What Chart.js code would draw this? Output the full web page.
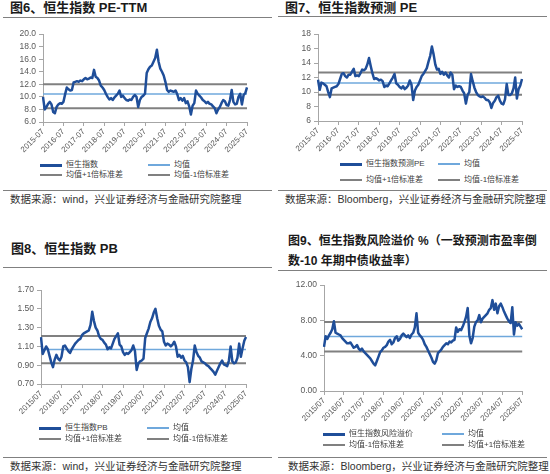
<!DOCTYPE html>
<html>
<head>
<meta charset="utf-8">
<script src="https://cdn.jsdelivr.net/npm/chart.js@4.4.1/dist/chart.umd.min.js"></script>
<style>
  body { margin: 0; width: 550px; height: 474px; background: #fff; position: relative; overflow: hidden;
         font-family: "Liberation Sans", "Noto Sans CJK SC", sans-serif; }
  .title { position: absolute; font-weight: bold; font-size: 13px; color: #1a1a1a; line-height: 18px; white-space: nowrap; }
  .rule { position: absolute; height: 1px; background: #808080; }
  .src { position: absolute; font-size: 10.5px; color: #333; line-height: 14px; white-space: nowrap; }
  .leg { position: absolute; font-size: 8px; color: #404040; line-height: 10px; white-space: nowrap; display: flex; align-items: center; }
  .leg i { display: inline-block; width: 22px; margin-right: 4px; }
  canvas { position: absolute; }
</style>
</head>
<body>

<div class="title" style="left:10px;top:-1px">图6、恒生指数 PE-TTM</div>
<div class="rule" style="left:3px;top:17px;width:269px"></div>
<canvas id="c6" width="255" height="130" style="left:0;top:26px"></canvas>
<div class="rule" style="left:3px;top:190px;width:269px"></div>
<div class="src" style="left:10px;top:192px">数据来源：wind，兴业证券经济与金融研究院整理</div>

<div class="title" style="left:285px;top:-1px">图7、恒生指数预测 PE</div>
<div class="rule" style="left:278px;top:16px;width:269px"></div>
<canvas id="c7" width="255" height="129" style="left:275px;top:26px"></canvas>
<div class="rule" style="left:278px;top:190px;width:269px"></div>
<div class="src" style="left:285px;top:192px">数据来源：Bloomberg，兴业证券经济与金融研究院整理</div>

<div class="title" style="left:11px;top:240px">图8、恒生指数 PB</div>
<div class="rule" style="left:3px;top:267px;width:269px"></div>
<canvas id="c8" width="255" height="136" style="left:0;top:282px"></canvas>
<div class="rule" style="left:3px;top:457px;width:269px"></div>
<div class="src" style="left:10px;top:459px">数据来源：wind，兴业证券经济与金融研究院整理</div>

<div class="title" style="left:288px;top:232px;font-size:12px">图9、恒生指数风险溢价 %（一致预测市盈率倒</div>
<div class="title" style="left:288px;top:252px;font-size:12px">数-10 年期中债收益率）</div>
<div class="rule" style="left:278px;top:270px;width:269px"></div>
<canvas id="c9" width="255" height="148" style="left:275px;top:277px"></canvas>
<div class="rule" style="left:278px;top:457px;width:269px"></div>
<div class="src" style="left:288px;top:459px">数据来源：Bloomberg，兴业证券经济与金融研究院整理</div>

<script>
// months 2015-07 .. 2025-07
const months = [];
for (let y = 2015, m = 7; y < 2025 || (y === 2025 && m <= 7);) {
    months.push(`${y}-${String(m).padStart(2, '0')}`);
    m++;
    if (m > 12) { m = 1; y++; }
}

// 图6 恒生指数 PE-TTM
const hsiPeTtm = [
    10.0, 8.0, 8.4, 8.9, 9.2, 8.8, 7.6, 7.4, 8.4, 8.8, 9.0, 8.9,
    9.2, 10.4, 11.5, 11.2, 11.0, 11.1, 12.3, 12.4, 12.5, 12.4, 12.6, 12.5,
    12.8, 13.0, 12.8, 12.9, 13.1, 13.0, 14.3, 13.2, 13.0, 12.6, 11.8, 11.5,
    11.1, 10.5, 10.0, 9.6, 9.8, 9.5, 9.9, 10.2, 10.5, 11.0, 10.0, 10.2,
    9.8, 9.5, 9.4, 9.6, 9.5, 10.0, 10.3, 10.0, 8.4, 9.5, 10.0, 10.2,
    10.5, 13.8, 14.4, 14.8, 15.0, 15.6, 16.2, 17.5, 15.6, 14.5, 14.0, 13.4,
    12.4, 11.1, 10.8, 11.0, 10.9, 10.8, 11.0, 10.4, 9.5, 9.8, 9.4, 9.8,
    9.0, 9.3, 8.5, 7.2, 8.6, 9.0, 11.0, 10.5, 10.2, 9.9, 9.5, 9.3,
    9.0, 9.2, 8.9, 8.8, 8.5, 8.2, 7.4, 8.0, 8.4, 9.0, 9.5, 9.3,
    8.7, 8.6, 9.5, 11.1, 9.2, 8.8, 8.9, 10.0, 10.5, 8.8, 10.3, 10.6,
    11.5
];
const peTtmBand = [10.47, 12.0, 8.2]; // 均值, +1倍标准差, -1倍标准差

// 图7 恒生指数预测 PE
const hsiFwdPe = [
    11.7, 10.3, 11.3, 11.2, 11.0, 10.8, 10.0, 9.3, 10.5, 10.6, 10.7, 10.8,
    11.1, 11.8, 12.5, 12.6, 12.2, 12.0, 12.4, 12.4, 12.8, 13.2, 12.2, 12.3,
    12.2, 12.6, 13.1, 13.0, 13.2, 13.8, 14.7, 13.6, 12.6, 11.8, 11.9, 11.8,
    11.6, 11.7, 11.5, 10.7, 10.9, 10.8, 11.2, 11.6, 12.0, 12.5, 11.2, 11.0,
    10.7, 10.5, 10.8, 10.4, 10.6, 10.9, 11.6, 11.0, 8.9, 10.2, 10.7, 11.0,
    11.6, 12.2, 12.5, 12.9, 13.3, 14.2, 15.0, 16.3, 15.2, 13.8, 13.1, 13.2,
    12.5, 12.8, 12.4, 12.7, 12.3, 12.0, 12.7, 12.4, 10.4, 10.9, 10.7, 10.8,
    10.7, 10.2, 9.8, 8.4, 9.6, 10.0, 12.5, 11.5, 10.6, 10.0, 9.6, 9.4,
    9.3, 9.4, 9.2, 8.9, 8.9, 8.6, 7.8, 8.5, 8.8, 9.3, 9.5, 8.8,
    8.4, 8.3, 9.0, 11.1, 9.6, 9.6, 9.8, 10.5, 12.0, 9.1, 10.4, 10.9,
    11.8
];
const fwdPeBand = [11.25, 12.7, 9.62];

// 图8 恒生指数 PB
const hsiPb = [
    1.20, 1.02, 1.06, 1.10, 1.07, 1.00, 0.93, 0.88, 0.96, 1.01, 0.97, 0.95,
    0.99, 1.10, 1.11, 1.08, 1.05, 1.03, 1.07, 1.10, 1.13, 1.15, 1.17, 1.18,
    1.22, 1.24, 1.25, 1.26, 1.27, 1.33, 1.47, 1.37, 1.30, 1.27, 1.21, 1.18,
    1.17, 1.14, 1.12, 1.07, 1.09, 1.08, 1.13, 1.18, 1.21, 1.24, 1.12, 1.10,
    1.04, 1.01, 1.03, 1.02, 1.04, 1.06, 1.11, 1.05, 0.85, 0.92, 0.94, 0.95,
    0.97, 1.19, 1.24, 1.29, 1.36, 1.40, 1.46, 1.50, 1.40, 1.32, 1.28, 1.26,
    1.15, 1.11, 1.13, 1.12, 1.10, 1.12, 1.15, 1.10, 0.99, 1.01, 0.98, 1.00,
    0.95, 0.93, 0.88, 0.72, 0.86, 0.95, 1.11, 1.04, 1.00, 0.98, 0.94, 0.93,
    0.92, 0.90, 0.89, 0.87, 0.85, 0.83, 0.80, 0.84, 0.88, 0.92, 0.95, 0.91,
    0.90, 0.89, 0.95, 1.10, 0.94, 0.92, 0.93, 0.98, 1.13, 0.99, 1.08, 1.16,
    1.20
];
const pbBand = [1.068, 1.212, 0.922];

// 图9 恒生指数风险溢价 %
const hsiErp = [
    5.0, 6.2, 5.9, 6.3, 6.6, 7.0, 7.9, 6.6, 6.5, 6.4, 6.3, 6.0,
    5.8, 5.6, 5.4, 5.4, 5.5, 5.2, 4.9, 5.0, 5.2, 4.8, 4.6, 4.8,
    4.5, 4.3, 4.1, 3.9, 3.7, 3.4, 3.1, 2.9, 3.4, 3.9, 4.4, 4.6,
    4.9, 5.0, 5.2, 5.6, 5.8, 5.3, 5.5, 6.0, 6.2, 5.7, 5.9, 6.3,
    6.5, 6.3, 6.1, 6.3, 6.0, 6.4, 6.6, 7.2, 8.8, 6.6, 6.3, 6.1,
    5.8, 5.3, 5.0, 4.6, 4.2, 3.8, 3.3, 3.1, 3.5, 4.3, 4.5, 4.7,
    5.0, 5.2, 5.4, 5.3, 5.6, 5.5, 5.7, 5.8, 7.2, 6.7, 7.0, 6.9,
    7.3, 7.8, 8.4, 9.4, 6.3, 5.4, 6.0, 7.3, 7.8, 8.0, 8.6, 7.8,
    8.2, 8.4, 8.6, 8.8, 9.2, 9.4, 10.3, 9.2, 9.9, 8.8, 9.6, 9.9,
    9.5, 9.0, 8.6, 8.2, 7.9, 7.7, 9.5, 6.4, 7.8, 7.4, 7.6, 7.3,
    7.0
];
const erpBand = [6.17, 7.81, 4.47];

const SERIES = '#1f4e99';
const MEAN = '#6fa8dc';
const GRAY = '#808080';
const AXIS = '#a6a6a6';

const flat = (v) => months.map(() => v);

const drawPanel = (canvasId, opts) => {
    const { values, band, name, swapBands, sep, yMin, yMax, step, digits, yWidth, pad, legend } = opts;
    const upper = { label: '均值+1倍标准差', data: flat(band[1]), borderColor: GRAY, borderWidth: 2 };
    const lower = { label: '均值-1倍标准差', data: flat(band[2]), borderColor: GRAY, borderWidth: 2 };
    const datasets = [
        { label: name, data: values, borderColor: SERIES, borderWidth: 2.5 },
        { label: '均值', data: flat(band[0]), borderColor: MEAN, borderWidth: 1.5 },
        ...(swapBands ? [lower, upper] : [upper, lower])
    ];
    datasets.forEach(ds => { ds.pointRadius = 0; ds.fill = false; ds.borderJoinStyle = 'round'; });

    const ctx = document.getElementById(canvasId).getContext('2d');
    const chart = new Chart(ctx, {
        type: 'line',
        data: { labels: months, datasets },
        options: {
            responsive: false,
            animation: false,
            layout: { padding: pad },
            plugins: { legend: { display: false }, tooltip: { enabled: false } },
            scales: {
                x: {
                    grid: { drawOnChartArea: false, tickLength: 4, color: AXIS },
                    border: { color: AXIS },
                    ticks: {
                        autoSkip: false, maxRotation: 45, minRotation: 45, padding: 1,
                        color: '#595959', font: { size: 8, family: 'Liberation Sans' },
                        callback: function (v) {
                            const l = this.getLabelForValue(v);
                            return l.endsWith('-07') ? l.replace('-', sep) : null;
                        }
                    },
                    afterFit: (s) => { s.height = 34; }
                },
                y: {
                    min: yMin, max: yMax,
                    grid: { drawOnChartArea: false, tickLength: 4, color: AXIS },
                    border: { color: AXIS },
                    ticks: {
                        stepSize: step, padding: 3, autoSkip: false,
                        color: '#595959', font: { size: 8.5, family: 'Liberation Sans' },
                        callback: (v) => v.toFixed(digits)
                    },
                    afterFit: (s) => { s.width = yWidth; }
                }
            }
        }
    });

    // html legend, 2 columns
    chart.data.datasets.forEach((ds, i) => {
        const el = document.createElement('div');
        el.className = 'leg';
        el.style.left = (legend.x + (i % 2) * legend.colW) + 'px';
        el.style.top = (legend.y + Math.floor(i / 2) * legend.rowH - 5) + 'px';
        el.innerHTML = `<i style="height:${Math.ceil(ds.borderWidth)}px;background:${ds.borderColor}"></i>${ds.label}`;
        document.body.appendChild(el);
    });
};

drawPanel('c6', {
    values: hsiPeTtm, band: peTtmBand, name: '恒生指数', sep: '-',
    yMin: 6, yMax: 20, step: 2, digits: 1, yWidth: 43,
    pad: { top: 7, right: 8, left: 0, bottom: 0 },
    legend: { x: 40, y: 165, colW: 108, rowH: 10 }
});

drawPanel('c7', {
    values: hsiFwdPe, band: fwdPeBand, name: '恒生指数预测PE', sep: '-',
    yMin: 6, yMax: 18, step: 2, digits: 0, yWidth: 43,
    pad: { top: 6, right: 8, left: 0, bottom: 0 },
    legend: { x: 340, y: 164, colW: 98, rowH: 16 }
});

drawPanel('c8', {
    values: hsiPb, band: pbBand, name: '恒生指数PB', sep: '/',
    yMin: 0.7, yMax: 1.7, step: 0.2, digits: 2, yWidth: 41,
    pad: { top: 8, right: 9, left: 0, bottom: 0 },
    legend: { x: 39, y: 428, colW: 108, rowH: 11 }
});

drawPanel('c9', {
    values: hsiErp, band: erpBand, name: '恒生指数风险溢价', sep: '/', swapBands: true,
    yMin: 0, yMax: 12, step: 4, digits: 2, yWidth: 49,
    pad: { top: 8, right: 4, left: 0, bottom: 0 },
    legend: { x: 323, y: 434, colW: 119, rowH: 11 }
});
</script>
</body>
</html>
